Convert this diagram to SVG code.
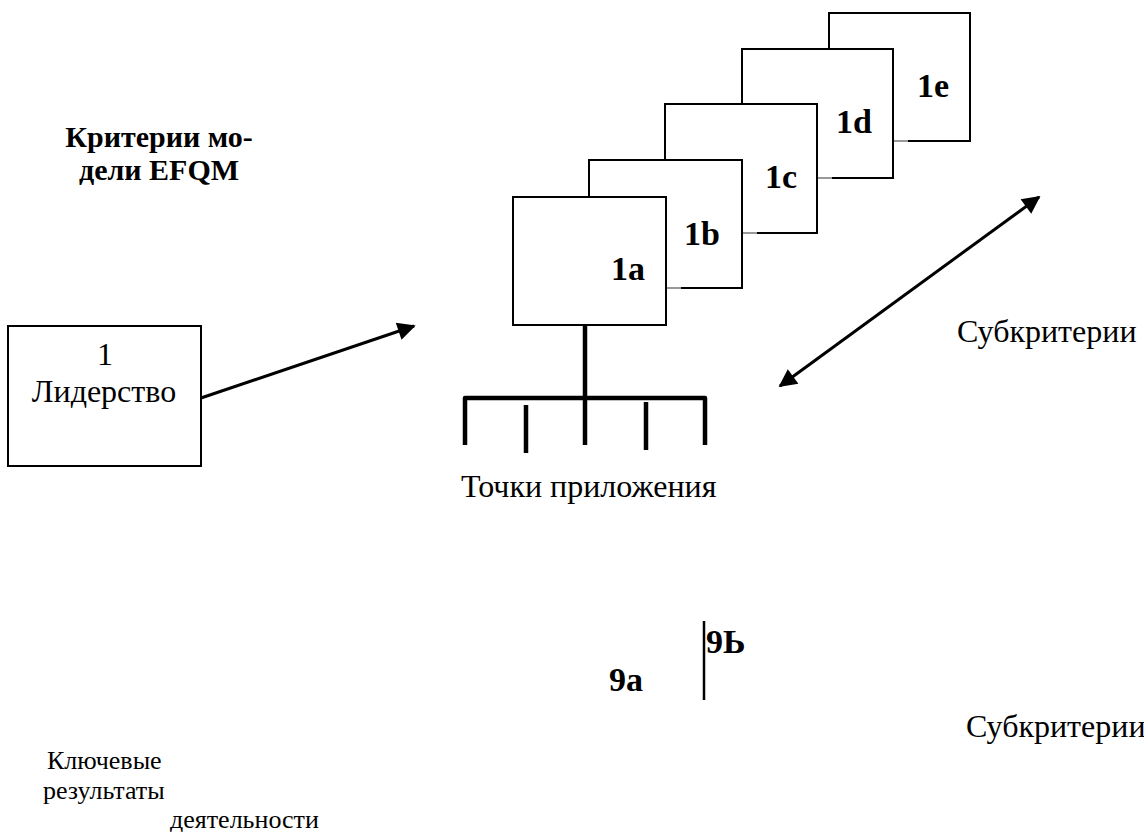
<svg xmlns="http://www.w3.org/2000/svg" width="1144" height="832" viewBox="0 0 1144 832">
  <style>
    .box { fill: #fff; stroke: #000; stroke-width: 2; }
    .tail { stroke: #999; stroke-width: 2; }
    .lbl { font-family: "Liberation Serif", "Times New Roman", serif; font-weight: bold; font-size: 34px; fill: #000; }
    .txt { font-family: "Liberation Serif", "Times New Roman", serif; font-size: 32px; fill: #000; }
    .small { font-family: "Liberation Serif", "Times New Roman", serif; font-size: 26px; fill: #000; }
    .head { font-family: "Liberation Serif", "Times New Roman", serif; font-weight: bold; font-size: 30px; fill: #000; }
    .thick { stroke: #000; stroke-width: 4.5; stroke-linecap: butt; fill: none; }
    .conn { stroke: #000; stroke-width: 3; fill: none; }
  </style>
  <defs>
    <marker id="arrow" viewBox="0 0 10 10" refX="9" refY="5" markerWidth="7" markerHeight="6" markerUnits="strokeWidth" orient="auto-start-reverse">
      <path d="M0,0 L10,5 L0,10 z" fill="#000"/>
    </marker>
  </defs>

  <rect width="1144" height="832" fill="#fff"/>

  <!-- heading -->
  <g id="title">
    <text class="head" x="159" y="147" text-anchor="middle">Критерии мо-</text>
    <text class="head" x="159" y="180" text-anchor="middle">дели EFQM</text>
  </g>

  <!-- criterion 1 -->
  <g id="leadership">
    <rect class="box" x="8" y="326" width="193" height="140"/>
    <text class="txt" x="105" y="365" text-anchor="middle">1</text>
    <text class="txt" x="104" y="402" text-anchor="middle">Лидерство</text>
  </g>

  <!-- stacked sub-criteria cards, back to front -->
  <g id="sub1e">
    <rect class="box" x="829" y="13" width="141" height="128"/>
    <line class="tail" x1="893" y1="141" x2="908" y2="141"/>
    <text class="lbl" x="917" y="97">1e</text>
  </g>
  <g id="sub1d">
    <rect class="box" x="742" y="49" width="151" height="129"/>
    <line class="tail" x1="817" y1="178" x2="832" y2="178"/>
    <text class="lbl" x="836" y="133">1d</text>
  </g>
  <g id="sub1c">
    <rect class="box" x="665" y="104" width="152" height="129"/>
    <line class="tail" x1="742" y1="233" x2="757" y2="233"/>
    <text class="lbl" x="765" y="188">1c</text>
  </g>
  <g id="sub1b">
    <rect class="box" x="589" y="160" width="153" height="128"/>
    <line class="tail" x1="666" y1="288" x2="681" y2="288"/>
    <text class="lbl" x="684" y="245">1b</text>
  </g>
  <g id="sub1a">
    <rect class="box" x="513" y="197" width="153" height="128"/>
    <text class="lbl" x="611" y="280">1a</text>
  </g>

  <!-- points of application comb -->
  <g id="points">
    <line class="thick" x1="585" y1="325" x2="585" y2="445"/>
    <path class="thick" d="M465,445 V398 H705 V445" stroke-linejoin="round"/>
    <line class="thick" x1="526" y1="405" x2="526" y2="453"/>
    <line class="thick" x1="646" y1="402" x2="646" y2="450"/>
    <text class="txt" x="461" y="497">Точки приложения</text>
  </g>

  <g id="subcrit-label">
    <text class="txt" x="957" y="342">Субкритерии</text>
  </g>

  <!-- criterion 9 fragment -->
  <g id="sub9">
    <line stroke="#000" stroke-width="2.5" x1="704" y1="621" x2="704" y2="700"/>
    <text class="lbl" x="609" y="691">9a</text>
    <text class="lbl" x="706" y="653">9Ь</text>
  </g>

  <g id="subcrit-label-2">
    <text class="txt" x="966" y="737">Субкритерии</text>
  </g>

  <g id="results">
    <text class="small" x="47" y="769">Ключевые</text>
    <text class="small" x="43" y="799">результаты</text>
    <text class="small" x="170" y="828">деятельности</text>
  </g>

  <!-- connectors -->
  <g id="connectors">
    <line class="conn" x1="201" y1="398" x2="414" y2="326" marker-end="url(#arrow)"/>
    <line class="conn" x1="780" y1="386" x2="1039" y2="197" marker-start="url(#arrow)" marker-end="url(#arrow)"/>
  </g>
</svg>
